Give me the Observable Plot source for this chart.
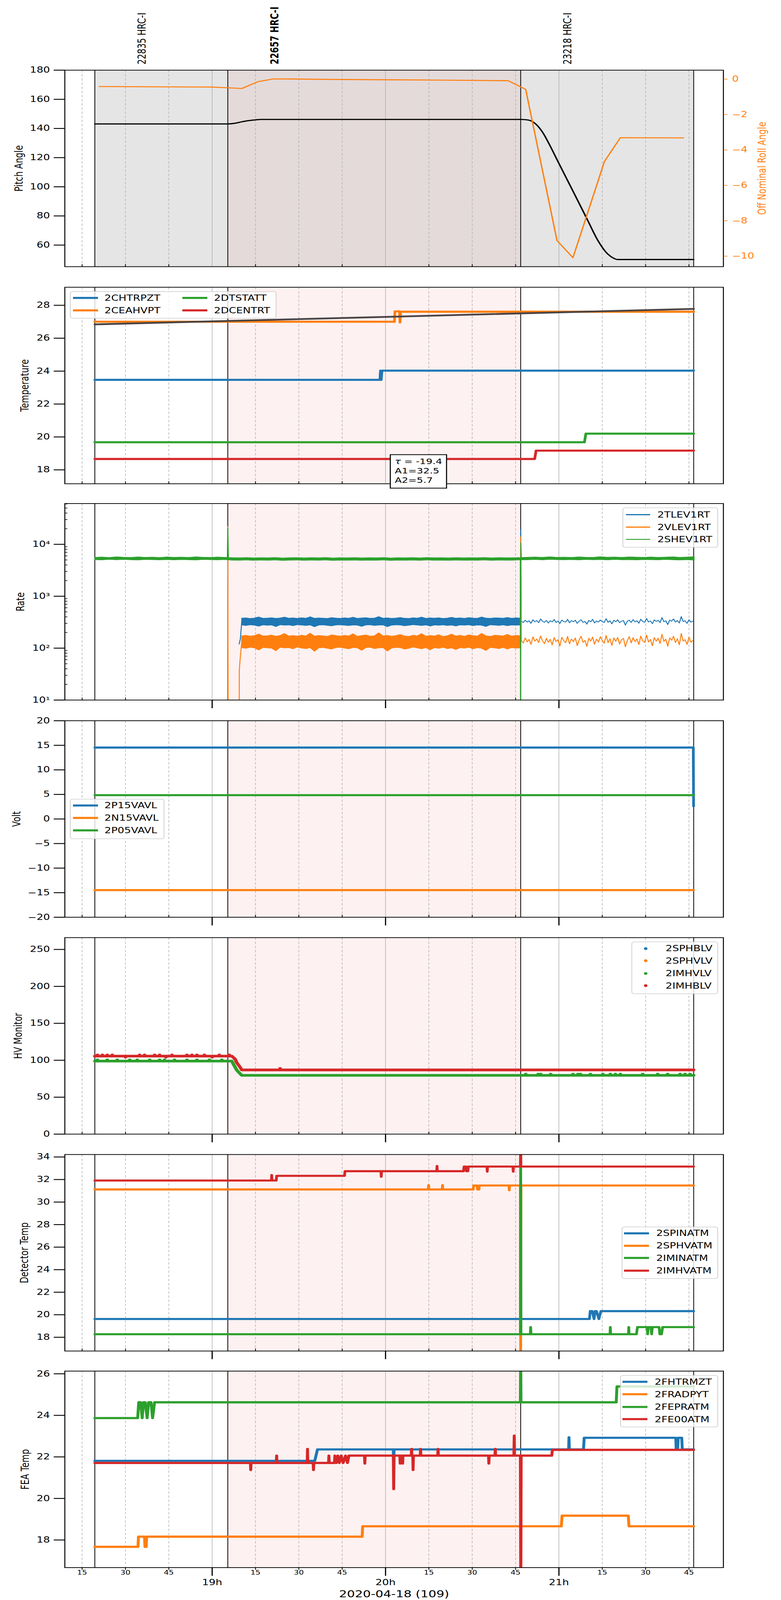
<!DOCTYPE html>
<html>
<head>
<meta charset="utf-8">
<script src="https://cdn.jsdelivr.net/npm/d3@7"></script>
<script src="https://cdn.jsdelivr.net/npm/@observablehq/plot@0.6"></script>
<style>
html,body{margin:0;padding:0;background:#fff;overflow:hidden;}
#wrap{position:relative;width:2000px;overflow:hidden;background:#fff;}
#root{position:absolute;left:0;top:0;width:2000px;height:5400px;background:#fff;overflow:hidden;font-family:"DejaVu Sans",sans-serif;transform-origin:0 0;}
#root svg{overflow:visible;}
.pn{position:absolute;left:0;width:2000px;}
.lg{position:absolute;box-sizing:border-box;border:2.5px solid #d0d0d0;border-radius:7px;background:rgba(255,255,255,0.8);}
.lg .sw{position:absolute;}
.lg .tx{position:absolute;font-size:27px;line-height:1;white-space:nowrap;transform:translateY(-50%);color:#000;}
.note{position:absolute;box-sizing:border-box;border:3px solid #1a1a1a;background:#fff;font-size:26px;line-height:31.7px;color:#000;white-space:nowrap;}
</style>
</head>
<body>
<div id="wrap"><div id="root"></div></div>
<script>
// ---------------- time axis ----------------
const DAY = "2020-04-18";
const xLimits = ["18:09:01", "21:56:55"];
const minorTimes = ["18:15","18:30","18:45","19:15","19:30","19:45","20:15","20:30","20:45","21:15","21:30","21:45"];
const hourTimes = ["19:00","20:00","21:00"];

// ---------------- observations ----------------
const obsids = ["22835", "22657", "23218"];
const obsInstr = ["HRC-I", "HRC-I", "HRC-I"];
const obsStart = ["18:19:24", "19:05:25", "20:46:46"];
const obsEnd = ["19:05:25", "20:46:46", "21:46:38"];
const currentObsid = "22657";

// ---------------- panel 1: attitude ----------------
const pitchTicks = [60, 80, 100, 120, 140, 160, 180];
const pitchLimits = [45.2, 180];
const rollTicks = [0, -2, -4, -6, -8, -10];
const rollLimits = [-10.59, 0.51];
const pitchAngle = [
  ["18:19:24",143.1],["19:05:26",143.1],["19:07:40",143.5],["19:09:23",144.2],["19:11:58",145.2],["19:14:33",145.8],["19:17:06",146.2],
  ["20:46:46",146.2],["20:49:21",145.8],["20:51:57",143.1],["20:54:30",136.9],["20:56:14",130.8],["20:59:42",117.2],["21:03:09",103.7],
  ["21:06:36",90.2],["21:10:03",76.6],["21:13:30",63.1],["21:16:56",53.8],["21:18:40",51.3],["21:20:23",50.1],["21:46:38",50.1]
];
const rollAngle = [
  ["18:20:57",-0.42],["19:00:00",-0.45],["19:05:25",-0.49],["19:10:20",-0.53],["19:15:46",-0.15],["19:21:12",0.01],["19:26:06",0.01],
  ["19:41:31",-0.02],["20:04:32",-0.04],["20:21:47",-0.06],["20:42:28",-0.09],["20:48:30",-0.58],["20:59:20",-9.12],["21:04:51",-10.09],
  ["21:13:30",-5.78],["21:15:44",-4.66],["21:21:15",-3.31],["21:43:09",-3.32]
];

// ---------------- panel 2: temperature ----------------
const tempTicks = [18, 20, 22, 24, 26, 28];
const tempLimits = [17.155, 29.096];
const CHTRPZT = [["18:19:24",23.47],["19:58:05",23.47],["19:58:15",24.03],["19:58:30",23.47],["19:58:45",24.03],["21:46:38",24.03]];
const CEAHVPT = [["18:19:24",27.0],["20:03:05",27.0],["20:03:15",27.63],["20:04:50",27.63],["20:05:00",26.96],["20:05:12",27.61],["21:46:38",27.61]];
const DTSTATT = [["18:19:24",19.68],["21:08:50",19.68],["21:09:20",20.2],["21:46:38",20.2]];
const DCENTRT = [["18:19:24",18.66],["20:51:36",18.66],["20:52:06",19.17],["21:46:38",19.17]];
const tempFit = [["18:19:24",26.84],["21:46:38",27.78]];
const fitTau = -19.4, fitA1 = 32.5, fitA2 = 5.7;

// ---------------- panel 3: rates (log) ----------------
const rateTicks = [10, 100, 1000, 10000];
const rateMinorTicks = [20,30,40,50,60,70,80,90,200,300,400,500,600,700,800,900,2000,3000,4000,5000,6000,7000,8000,9000,20000,30000,40000,50000,60000];
const rateLimits = [10, 61000];
const rateBandStart = "19:10:15", rateBandStepSec = 89;
const TLEV1RT_bandHi = [
  376,382,372,379,398,375,378,384,373,380,
  395,377,381,374,383,376,401,375,380,377,
  372,386,379,374,382,376,394,373,380,385,
  375,378,404,376,381,373,379,388,376,372,
  383,377,396,374,381,376,384,372,378,392,
  376,381,374,386,379,375,397,378,373,382,
  380,376,389,375,381,378];
const TLEV1RT_bandLo = [
  276,270,279,274,262,278,273,276,258,279,
  274,277,268,280,275,271,277,255,275,278,
  272,266,276,279,274,269,277,274,260,276,
  279,271,275,277,257,274,278,276,267,273,
  280,275,270,277,263,276,273,278,271,275,
  265,277,274,279,268,276,273,259,278,275,
  271,278,268,276,274,276];
const VLEV1RT_bandHi = [
  172,176,170,174,187,171,173,178,169,175,
  191,171,174,170,177,172,194,170,175,172,
  168,180,174,170,176,171,189,169,174,179,
  170,173,197,171,176,169,174,183,171,168,
  177,172,190,170,175,171,181,167,173,186,
  171,176,169,180,174,170,192,172,168,177,
  175,171,184,170,176,173];
const VLEV1RT_bandLo = [
  101,98,103,100,91,102,100,99,88,103,
  100,101,96,104,99,97,101,86,100,102,
  98,95,101,103,99,96,102,100,90,101,
  103,97,100,101,87,99,102,101,95,98,
  104,100,96,101,92,101,98,103,97,100,
  93,101,99,103,96,101,98,89,102,100,
  97,102,95,101,99,100];
const SHEV1RT_bandStart = "18:19:24", SHEV1RT_bandStepSec = 150;
const SHEV1RT_bandHi = [
  5600,5680,5550,5720,5620,5580,5700,5610,5650,5560,
  5690,5600,5640,5580,5710,5620,5570,5660,5600,5520,
  5480,5560,5450,5510,5470,5540,5440,5500,5530,5460,
  5520,5480,5550,5430,5500,5470,5530,5450,5510,5490,
  5560,5440,5500,5470,5520,5460,5540,5480,5510,5450,
  5530,5470,5500,5490,5550,5460,5520,5480,5510,5560,
  5620,5680,5590,5720,5610,5650,5580,5700,5630,5600,
  5740,5620,5660,5590,5700,5640,5610,5680,5590,5650,
  5720,5600,5660,5780];
const SHEV1RT_bandLo = [
  5020,4960,5080,4990,5050,5000,4940,5060,5010,4980,
  5040,4970,5030,5000,4950,5060,5010,4980,5040,4900,
  4880,4950,4860,4920,4890,4940,4850,4910,4930,4870,
  4920,4890,4950,4840,4900,4880,4930,4860,4910,4890,
  4950,4850,4900,4880,4920,4870,4940,4890,4910,4860,
  4930,4880,4900,4890,4950,4870,4920,4880,4910,4960,
  5000,5050,4980,5070,5010,4990,5040,4970,5060,5000,
  5030,4960,5050,4990,5020,4970,5040,5010,4980,5050,
  5000,4940,5020,4900];
const ratePostStart = "20:47:00", ratePostStepSec = 40;
const TLEV1RT_post = [
  330,312,345,318,336,301,352,322,340,310,
  365,328,315,342,305,338,320,356,312,333,
  298,348,325,317,360,308,339,322,346,300,
  331,352,314,327,290,343,321,358,306,335,
  318,349,326,311,370,315,337,294,344,323,
  352,309,331,340,278,329,347,313,355,320,
  338,302,361,325,316,372,319,334,296,350,
  327,345,311,388,322,336,285,348,330,365,
  318,341,305,405,326,337,300,352,318,330];
const VLEV1RT_post = [
  140,125,158,132,147,118,165,136,150,128,
  172,138,122,155,130,148,115,160,134,145,
  110,162,139,127,168,121,150,133,157,112,
  144,170,129,141,108,156,137,163,119,149,
  131,166,140,124,175,128,152,113,158,135,
  161,120,146,154,106,139,167,126,159,133,
  150,117,171,138,129,178,131,147,111,160,
  136,155,123,185,134,149,109,158,142,170,
  128,152,116,192,137,146,118,163,130,140];
const TLEV1RT_events = [
  [["19:09:20",120],["19:09:45",150],["19:10:15",330]],
  [["20:46:40",330],["20:46:48",19000],["20:46:56",330],["20:47:00",330]]
];
const VLEV1RT_events = [
  [["19:05:22",22000],["19:05:34",1],["19:09:18",1],["19:09:24",38],["19:09:40",60],["19:10:15",135]],
  [["20:46:40",140],["20:46:48",14000],["20:46:58",140],["20:47:00",140]]
];
const SHEV1RT_events = [
  [["19:05:15",5300],["19:05:25",20500],["19:05:38",5200]],
  [["20:46:38",5200],["20:46:44",1],["20:46:50",10700],["20:46:58",5300]]
];

// ---------------- panel 4: voltages ----------------
const voltTicks = [-20, -15, -10, -5, 0, 5, 10, 15, 20];
const voltLimits = [-20, 20];
const P15VAVL = [["18:19:24",14.54],["21:46:30",14.54],["21:46:36",2.6]];
const N15VAVL = [["18:19:24",-14.48],["21:46:38",-14.48]];
const P05VAVL = [["18:19:24",4.85],["21:46:38",4.85]];

// ---------------- panel 5: HV monitor ----------------
const hvTicks = [0, 50, 100, 150, 200, 250];
const hvLimits = [0, 266];
const SPHBLV = [];   // no valid samples in window
const SPHVLV = [];   // no valid samples in window
const IMHVLV_level = [["18:19:24",98.9],["19:06:50",98.9],["19:07:19",94.9],["19:08:00",90.3],["19:08:31",86.6],["19:09:23",83.0],["19:10:15",79.6],["21:46:38",79.6]];
const IMHVLV_jitter = [["18:20:18",100.6],["18:23:42",100.6],["18:27:09",100.6],["18:31:29",100.6],["18:34:04",100.6],["18:38:23",100.6],["18:41:48",100.6],["18:43:31",100.6],["18:46:58",100.6],["18:51:17",100.6],["18:54:44",100.6],["18:59:02",100.6],["19:03:21",100.6],
  ["20:48:30",81.3],["20:52:49",81.3],["20:53:41",81.3],["20:57:08",81.3],["21:04:52",81.3],["21:06:35",81.3],["21:07:27",81.3],["21:10:54",81.3],["21:15:13",81.3],["21:17:48",81.3],["21:19:32",81.3],["21:21:15",81.3],["21:28:59",81.3],["21:34:10",81.3],["21:37:37",81.3],["21:41:56",81.3],["21:43:39",81.3],["21:45:22",81.3]];
const IMHBLV_level = [["18:19:24",105.6],["19:06:48",105.6],["19:08:00",101.3],["19:08:31",96.7],["19:09:02",94.0],["19:09:44",90.3],["19:10:15",86.9],["21:46:38",86.9]];
const IMHBLV_jitter = [["18:20:18",107.2],["18:22:00",107.2],["18:23:42",107.2],["18:25:26",107.2],["18:30:00",104.2],["18:34:54",107.2],["18:36:36",107.2],["18:40:06",107.2],["18:41:48",107.2],["18:44:00",104.2],["18:46:06",107.2],["18:51:17",107.2],["18:53:00",107.2],["18:54:44",107.2],["18:57:20",107.2],["19:00:00",104.2],["19:02:29",107.2],["19:05:56",107.2],["19:23:31",89.0]];

// ---------------- panel 6: detector temperatures ----------------
const detTicks = [18, 20, 22, 24, 26, 28, 30, 32, 34];
const detLimits = [16.78, 34.22];
const SPINATM = [["18:19:24",19.62],["21:10:33",19.62],["21:10:50",20.32],["21:11:30",20.32],["21:12:10",19.62],["21:12:30",20.32],["21:13:00",20.32],["21:13:50",19.62],["21:14:30",20.32],["21:46:38",20.32]];
const SPHVATM = [["18:19:24",31.12],["20:14:48",31.12],["20:14:54",31.5],["20:15:00",31.12],["20:19:37",31.12],["20:19:43",31.5],["20:19:49",31.12],["20:30:20",31.12],["20:30:30",31.47],["20:31:40",31.47],["20:31:50",31.12],["20:32:20",31.12],["20:32:30",31.47],["20:42:43",31.47],["20:42:49",31.05],["20:42:55",31.47],["20:46:40",31.47],["20:46:46",16],["20:46:52",31.47],["21:46:38",31.47]];
const IMINATM = [["18:19:24",18.27],["20:46:40",18.27],["20:46:46",36],["20:46:52",18.27],["20:50:05",18.27],["20:50:13",18.9],["20:50:21",18.27],["21:17:40",18.27],["21:17:47",18.9],["21:17:54",18.27],["21:24:03",18.27],["21:24:10",18.9],["21:24:17",18.27],["21:26:50",18.27],["21:27:10",18.9],["21:30:30",18.9],["21:30:43",18.27],["21:30:56",18.9],["21:31:50",18.9],["21:32:05",18.27],["21:32:20",18.9],["21:34:40",18.9],["21:34:55",18.27],["21:35:30",18.27],["21:35:53",18.9],["21:46:38",18.9]];
const IMHVATM = [["18:19:24",31.91],["19:20:30",31.91],["19:20:36",32.4],["19:20:44",31.91],["19:22:10",31.91],["19:22:20",32.33],["19:45:48",32.33],["19:45:58",32.74],["19:58:24",32.74],["19:58:31",32.25],["19:58:38",32.74],["20:17:42",32.74],["20:17:49",33.2],["20:17:56",32.74],["20:27:00",32.74],["20:27:10",33.15],["20:27:50",33.15],["20:28:00",32.74],["20:28:30",32.74],["20:28:40",33.15],["20:35:05",33.15],["20:35:12",32.7],["20:35:19",33.15],["20:44:04",33.15],["20:44:11",32.7],["20:44:18",33.15],["20:46:40",33.15],["20:46:46",35],["20:46:52",33.15],["21:46:38",33.15]];

// ---------------- panel 7: FEA temperatures ----------------
const feaTicks = [18, 20, 22, 24, 26];
const feaLimits = [16.67, 26.13];
const FHTRMZT = [["18:19:24",21.81],["19:35:30",21.81],["19:36:27",22.36],["20:02:42",22.36],["20:02:49",21.26],["20:02:56",22.36],["21:03:22",22.36],["21:03:29",22.94],["21:03:36",22.36],["21:08:30",22.36],["21:08:45",22.92],["21:40:27",22.92],["21:40:35",22.36],["21:41:05",22.36],["21:41:15",22.92],["21:42:30",22.92],["21:42:41",22.36],["21:46:38",22.36]];
const FRADPYT = [["18:19:24",17.67],["18:34:20",17.67],["18:34:30",18.16],["18:36:35",18.16],["18:36:45",17.67],["18:37:10",17.67],["18:37:20",18.16],["19:51:55",18.16],["19:52:05",18.66],["21:00:50",18.66],["21:01:05",19.17],["21:24:00",19.17],["21:24:15",18.66],["21:46:38",18.66]];
const FEPRATM = [["18:19:24",23.87],["18:34:14",23.87],["18:34:35",24.63],["18:35:15",24.63],["18:35:47",23.87],["18:36:15",24.63],["18:36:50",24.63],["18:37:30",23.87],["18:38:00",24.63],["18:38:50",24.63],["18:39:23",23.87],["18:40:04",24.63],["20:46:40",24.63],["20:46:46",27],["20:46:52",24.63],["21:19:50",24.63],["21:20:05",25.39],["21:46:38",25.39]];
const FE00ATM = [["18:19:24",21.71],["19:13:14",21.71],["19:13:21",21.37],["19:13:28",21.71],["19:22:12",21.71],["19:22:19",22.06],["19:22:26",21.71],["19:32:53",21.71],["19:33:00",22.38],["19:33:07",21.71],["19:34:57",21.71],["19:35:04",21.37],["19:35:11",21.71],["19:40:17",21.71],["19:40:24",22.06],["19:40:31",21.71],
  ["19:42:20",21.71],["19:42:28",22.06],["19:43:00",21.71],["19:43:30",22.06],["19:44:00",21.71],["19:44:40",22.06],["19:45:20",21.71],["19:46:10",22.06],["19:46:50",21.71],["19:47:19",22.06],["19:52:43",22.06],["19:52:50",21.68],["19:52:57",22.06],["20:02:42",22.06],["20:02:49",20.45],["20:02:56",22.06],
  ["20:04:57",22.06],["20:05:04",21.68],["20:05:11",22.06],["20:05:48",22.06],["20:05:55",21.68],["20:06:02",22.06],["20:08:54",22.06],["20:09:01",22.38],["20:09:08",22.06],["20:09:25",22.06],["20:09:32",21.37],["20:09:39",22.06],["20:12:00",22.06],["20:12:07",22.38],["20:12:14",22.06],["20:18:03",22.06],["20:18:10",22.38],["20:18:17",22.06],
  ["20:35:38",22.06],["20:35:45",21.68],["20:35:52",22.06],["20:37:52",22.06],["20:37:59",22.38],["20:38:06",22.06],["20:44:25",22.06],["20:44:32",23.02],["20:44:39",22.06],["20:46:40",22.06],["20:46:48",15],["20:46:56",22.06],["20:57:30",22.06],["20:57:45",22.34],["21:46:38",22.34]];

// ================= layout / style constants =================
const W = 2000, H = 5400, ML = 165.5, MR = 148, PANEL_H = 663.2;
const PANEL_TOPS = [236.3, 969.1, 1699.2, 2432.3, 3163.6, 3895.8, 4627.0];
const OBS_LABEL_OFFSET_MIN = 16.35;
const C = {blue: "#1f77b4", orange: "#ff7f0e", green: "#2ca02c", red: "#d62728"};
const FONT = "'DejaVu Sans', sans-serif";

// the photographed viewport may be shorter than the 5400 px figure: fit the whole figure into it
{
  const vh = window.innerHeight || H;
  const fit = Math.min(1, vh / H);
  document.getElementById("wrap").style.height = Math.round(H * fit) + "px";
  document.getElementById("root").style.transform = `scale(1, ${fit})`;
}

const T = s => new Date(`${DAY}T${s.length === 5 ? s + ":00" : s}Z`);
const xDomain = xLimits.map(T);
const rows = pairs => pairs.map(([t, v]) => ({t: T(t), v}));
const sampled = (start, step, vals) => vals.map((v, i) => ({t: new Date(+T(start) + i * step * 1000), v}));
const band = (start, step, lo, hi) => lo.slice(0, Math.min(lo.length, hi.length)).map((l, i) => ({t: new Date(+T(start) + i * step * 1000), lo: l, hi: hi[i]}));

const obsRows = obsids.map((id, i) => ({id, label: `${id} ${obsInstr[i]}`, a: T(obsStart[i]), b: T(obsEnd[i]), current: id === currentObsid}));
const boundaries = [...obsStart, obsEnd[obsEnd.length - 1]].map(T);
const root = document.getElementById("root");

function background(first) {
  const cur = obsRows.filter(d => d.current);
  const m = [];
  if (first) m.push(Plot.rect([{a: obsRows[0].a, b: obsRows[obsRows.length - 1].b}], {x1: "a", x2: "b", fill: "#e5e5e5"}));
  m.push(Plot.rect(cur, {x1: "a", x2: "b", fill: first ? "#e4dada" : "#fdf1f1"}));
  m.push(Plot.ruleX(minorTimes.map(T), {stroke: "#b0b0b0", strokeWidth: 1.5, strokeDasharray: "8,6"}));
  m.push(Plot.ruleX(hourTimes.map(T), {stroke: "#b0b0b0", strokeWidth: 1.5}));
  m.push(Plot.ruleX(boundaries, {stroke: "#000", strokeWidth: 2}));
  return m;
}
function xAxes(kind) {
  const minor = minorTimes.map(T), hours = hourTimes.map(T);
  if (kind === "full") {
    return [
      Plot.axisX({ticks: minor, tickSize: 8, tickPadding: 1, strokeWidth: 2, fontSize: 20, tickFormat: d3.utcFormat("%M"), label: null}),
      Plot.axisX({ticks: hours, tickSize: 28, tickPadding: 12, strokeWidth: 3, fontSize: 27, tickFormat: d => d3.utcFormat("%-H")(d) + "h", label: null}),
      Plot.text([d3.utcFormat("%Y-%m-%d (%j)")(T("12:00"))], {text: d => d, frameAnchor: "bottom", dy: 77, lineAnchor: "top", fontSize: 32})
    ];
  }
  const m = [Plot.axisX({ticks: minor, tickSize: 8, dy: -8, strokeWidth: 2, text: null, label: null})];
  if (kind === "major") m.push(Plot.axisX({ticks: hours, tickSize: 28, strokeWidth: 3, text: null, label: null}));
  return m;
}
function yAxis(ticks, fmt) {
  return Plot.axisY({ticks, tickSize: 28, tickPadding: 10, strokeWidth: 3, fontSize: 27, tickFormat: fmt, label: null});
}
function yLabel(text, cx) {
  return Plot.text([text], {text: d => d, frameAnchor: "left", dx: cx - ML, rotate: -90, textAnchor: "middle", lineAnchor: "middle", fontSize: 28});
}
const line = (pairs, color, sw, extra = {}) => Plot.line(rows(pairs), {x: "t", y: "v", stroke: color, strokeWidth: sw, clip: true, ...extra});

function addPanel(i, y, marks, mt = 40, mb = 40) {
  const fig = Plot.plot({
    width: W, height: mt + PANEL_H + mb,
    marginLeft: ML, marginRight: MR, marginTop: mt, marginBottom: mb,
    x: {type: "utc", domain: xDomain},
    y,
    style: {fontFamily: FONT, fontSize: "27px", background: "transparent", overflow: "visible", color: "#000"},
    marks
  });
  const d = document.createElement("div");
  d.className = "pn";
  d.style.top = (PANEL_TOPS[i] - mt) + "px";
  d.appendChild(fig);
  root.appendChild(d);
}

// ---------- panel 1 ----------
addPanel(0, {domain: pitchLimits}, [
  ...background(true),
  line(pitchAngle, "#000", 4, {curve: "monotone-x"}),
  Plot.frame({stroke: "#000", strokeWidth: 2.5}),
  ...xAxes("none"),
  yAxis(pitchTicks),
  yLabel("Pitch Angle", 48.5),
  Plot.text(obsRows.filter(d => !d.current), {x: d => new Date(+d.a + OBS_LABEL_OFFSET_MIN * 60000), text: "label", frameAnchor: "top", dy: -19.3, rotate: -90, textAnchor: "start", lineAnchor: "middle", fontSize: 28}),
  Plot.text(obsRows.filter(d => d.current), {x: d => new Date(+d.a + OBS_LABEL_OFFSET_MIN * 60000), text: "label", frameAnchor: "top", dy: -19.3, rotate: -90, textAnchor: "start", lineAnchor: "middle", fontSize: 28, fontWeight: "bold"})
], PANEL_TOPS[0], 40);

// roll angle overlay (twin y axis)
{
  const mt = 40, mb = 40;
  const fig = Plot.plot({
    width: W, height: mt + PANEL_H + mb,
    marginLeft: ML, marginRight: MR, marginTop: mt, marginBottom: mb,
    x: {type: "utc", domain: xDomain, axis: null},
    y: {domain: rollLimits},
    style: {fontFamily: FONT, fontSize: "27px", background: "transparent", overflow: "visible"},
    marks: [
      line(rollAngle, C.orange, 3.5),
      Plot.axisY({anchor: "right", ticks: rollTicks, tickSize: 10, tickPadding: 12, strokeWidth: 2, color: C.orange, fontSize: 27, label: null}),
      Plot.text(["Off Nominal Roll Angle"], {text: d => d, frameAnchor: "right", dx: 100, rotate: -90, textAnchor: "middle", lineAnchor: "middle", fill: C.orange, fontSize: 28})
    ]
  });
  const d = document.createElement("div");
  d.className = "pn";
  d.style.top = (PANEL_TOPS[0] - mt) + "px";
  d.appendChild(fig);
  root.appendChild(d);
}

// ---------- panel 2 ----------
addPanel(1, {domain: tempLimits}, [
  ...background(false),
  line(CHTRPZT, C.blue, 7),
  line(CEAHVPT, C.orange, 7),
  line(DTSTATT, C.green, 7),
  line(DCENTRT, C.red, 7),
  line(tempFit, "#4a4343", 6),
  Plot.frame({stroke: "#000", strokeWidth: 2.5}),
  ...xAxes("none"),
  yAxis(tempTicks),
  yLabel("Temperature", 64)
]);

// ---------- panel 3 ----------
const sup = {1: "\u00b9", 2: "\u00b2", 3: "\u00b3", 4: "\u2074"};
const rateSeries = [
  {color: C.blue, bandLo: TLEV1RT_bandLo, bandHi: TLEV1RT_bandHi, post: TLEV1RT_post, events: TLEV1RT_events},
  {color: C.orange, bandLo: VLEV1RT_bandLo, bandHi: VLEV1RT_bandHi, post: VLEV1RT_post, events: VLEV1RT_events}
];
const rateMarks = [];
for (const s of rateSeries) {
  rateMarks.push(Plot.areaY(band(rateBandStart, rateBandStepSec, s.bandLo, s.bandHi), {x: "t", y1: "lo", y2: "hi", fill: s.color, stroke: s.color, strokeWidth: 1.5, clip: true}));
  rateMarks.push(Plot.line(sampled(ratePostStart, ratePostStepSec, s.post), {x: "t", y: "v", stroke: s.color, strokeWidth: 2.5, clip: true}));
  for (const e of s.events) rateMarks.push(line(e, s.color, 2.5));
}
rateMarks.push(Plot.areaY(band(SHEV1RT_bandStart, SHEV1RT_bandStepSec, SHEV1RT_bandLo, SHEV1RT_bandHi), {x: "t", y1: "lo", y2: "hi", fill: C.green, stroke: C.green, strokeWidth: 1.5, clip: true}));
for (const e of SHEV1RT_events) rateMarks.push(line(e, C.green, 2.5));
addPanel(2, {type: "log", domain: rateLimits}, [
  ...background(false),
  ...rateMarks,
  Plot.frame({stroke: "#000", strokeWidth: 2.5}),
  ...xAxes("major"),
  yAxis(rateTicks, d => "10" + sup[Math.round(Math.log10(d))]),
  Plot.axisY({ticks: rateMinorTicks, tickSize: 7, dx: 7, strokeWidth: 2, text: null, label: null}),
  yLabel("Rate", 52.5)
]);

// ---------- panel 4 ----------
addPanel(3, {domain: voltLimits}, [
  ...background(false),
  line(P15VAVL, C.blue, 7),
  line(N15VAVL, C.orange, 7),
  line(P05VAVL, C.green, 7),
  Plot.frame({stroke: "#000", strokeWidth: 2.5}),
  ...xAxes("major"),
  yAxis(voltTicks),
  yLabel("Volt", 43)
]);

// ---------- panel 5 ----------
addPanel(4, {domain: hvLimits}, [
  ...background(false),
  Plot.dot(rows(SPHBLV), {x: "t", y: "v", r: 4.5, fill: C.blue, clip: true}),
  Plot.dot(rows(SPHVLV), {x: "t", y: "v", r: 4.5, fill: C.orange, clip: true}),
  line(IMHVLV_level, C.green, 9),
  Plot.dot(rows(IMHVLV_jitter), {x: "t", y: "v", r: 4.5, fill: C.green, clip: true}),
  line(IMHBLV_level, C.red, 9),
  Plot.dot(rows(IMHBLV_jitter), {x: "t", y: "v", r: 4.5, fill: C.red, clip: true}),
  Plot.frame({stroke: "#000", strokeWidth: 2.5}),
  ...xAxes("major"),
  yAxis(hvTicks),
  yLabel("HV Monitor", 46.5)
]);

// ---------- panel 6 ----------
addPanel(5, {domain: detLimits}, [
  ...background(false),
  line(SPINATM, C.blue, 7),
  line(SPHVATM, C.orange, 7),
  line(IMINATM, C.green, 7),
  line(IMHVATM, C.red, 7),
  Plot.frame({stroke: "#000", strokeWidth: 2.5}),
  ...xAxes("major"),
  yAxis(detTicks),
  yLabel("Detector Temp", 62.5)
]);

// ---------- panel 7 ----------
addPanel(6, {domain: feaLimits}, [
  ...background(false),
  line(FHTRMZT, C.blue, 7.5),
  line(FRADPYT, C.orange, 7.5),
  line(FEPRATM, C.green, 7.5),
  line(FE00ATM, C.red, 7.5),
  Plot.frame({stroke: "#000", strokeWidth: 2.5}),
  ...xAxes("full"),
  yAxis(feaTicks),
  yLabel("FEA Temp", 64.5)
], 40, 110);

// ================= legends =================
function addLegend(L) {
  const box = document.createElement("div");
  box.className = "lg";
  Object.assign(box.style, {left: L.left + "px", top: L.top + "px", width: L.width + "px", height: L.height + "px"});
  L.names.forEach((name, i) => {
    const col = Math.floor(i / L.rows.length), row = i % L.rows.length;
    const x = L.cols[col] - 2.5, y = L.rows[row] - 2.5;
    const sw = document.createElement("div");
    sw.className = "sw";
    if (L.kind === "dot") {
      Object.assign(sw.style, {left: (x - 4.5) + "px", top: (y - 4.5) + "px", width: "9px", height: "9px", borderRadius: "50%", background: L.colors[i]});
    } else {
      Object.assign(sw.style, {left: x + "px", top: (y - L.bar / 2) + "px", width: L.handle + "px", height: L.bar + "px", background: L.colors[i]});
    }
    const tx = document.createElement("div");
    tx.className = "tx";
    tx.textContent = name;
    Object.assign(tx.style, {left: (x + L.textOffset) + "px", top: y + "px"});
    box.appendChild(sw);
    box.appendChild(tx);
  });
  root.appendChild(box);
}
const colors4 = [C.blue, C.orange, C.green, C.red];
addLegend({left: 178.6, top: 982.5, width: 529.4, height: 92.8, cols: [9, 289.4], rows: [23.5, 65.5], handle: 64, bar: 7, textOffset: 80.5,
  names: ["2CHTRPZT", "2CEAHVPT", "2DTSTATT", "2DCENTRT"], colors: colors4});
addLegend({left: 1594, top: 1713, width: 245, height: 135.4, cols: [9], rows: [24.3, 66.5, 107.9], handle: 62, bar: 3.5, textOffset: 81,
  names: ["2TLEV1RT", "2VLEV1RT", "2SHEV1RT"], colors: [C.blue, C.orange, C.green]});
addLegend({left: 178.6, top: 2696.3, width: 242.4, height: 135.4, cols: [9], rows: [22.7, 65.2, 106.7], handle: 64, bar: 7, textOffset: 80.5,
  names: ["2P15VAVL", "2N15VAVL", "2P05VAVL"], colors: [C.blue, C.orange, C.green]});
addLegend({left: 1617, top: 3177.8, width: 222, height: 176.8, cols: [37], rows: [24.2, 65.7, 107.9, 149.7], kind: "dot", textOffset: 51,
  names: ["2SPHBLV", "2SPHVLV", "2IMHVLV", "2IMHBLV"], colors: colors4});
addLegend({left: 1592, top: 4139.6, width: 247, height: 176.7, cols: [6], rows: [23, 65.2, 106.9, 149.2], handle: 64, bar: 7, textOffset: 83,
  names: ["2SPINATM", "2SPHVATM", "2IMINATM", "2IMHVATM"], colors: colors4});
addLegend({left: 1588, top: 4641, width: 251, height: 176.4, cols: [6], rows: [23.3, 65.4, 108, 149.1], handle: 64, bar: 7, textOffset: 83,
  names: ["2FHTRMZT", "2FRADPYT", "2FEPRATM", "2FE00ATM"], colors: colors4});

// ================= fit annotation =================
{
  const note = document.createElement("div");
  note.className = "note";
  Object.assign(note.style, {left: "997.7px", top: "1533.3px", width: "147.3px", height: "116px", padding: "5.6px 0 0 10.3px"});
  const lines = [["\u03c4", " = " + fitTau.toFixed(1)], ["A1", "=" + fitA1.toFixed(1)], ["A2", "=" + fitA2.toFixed(1)]];
  lines.forEach(([a, b], i) => {
    const ln = document.createElement("div");
    if (i === 0) { const it = document.createElement("i"); it.textContent = a; ln.appendChild(it); ln.appendChild(document.createTextNode(b)); }
    else ln.textContent = a + b;
    note.appendChild(ln);
  });
  root.appendChild(note);
}
</script>
</body>
</html>
